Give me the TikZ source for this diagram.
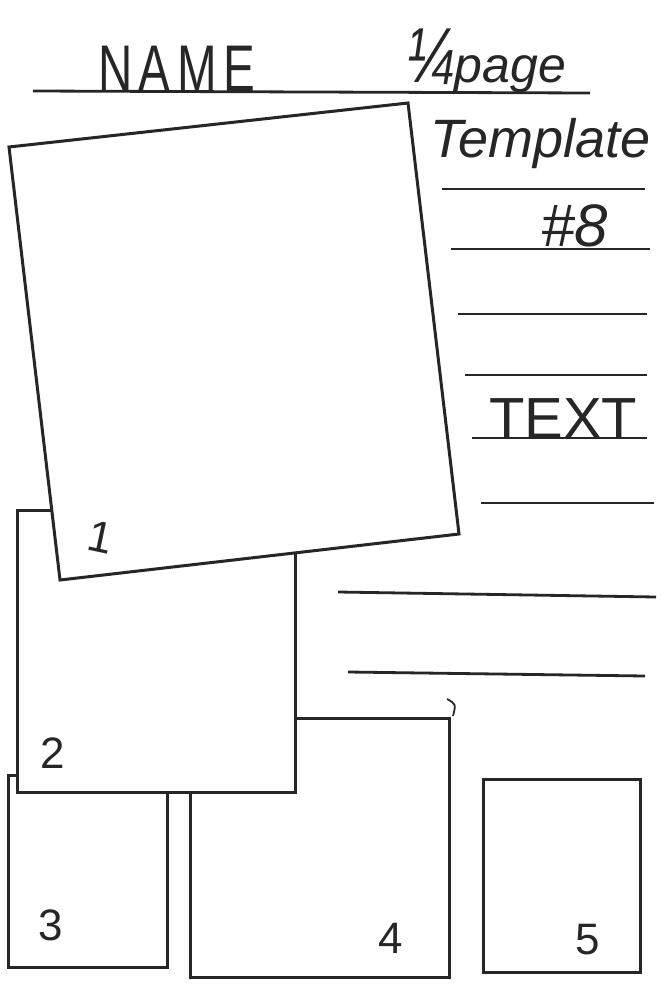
\documentclass[tikz,border=0pt]{standalone}
\usepackage{fontspec}
\setmainfont{Liberation Sans}
\usepackage{graphicx}
\definecolor{ink}{HTML}{262626}
\begin{document}
\begin{tikzpicture}[x=1pt,y=-1pt,
  panel/.style={draw=ink,line width=3pt,fill=white,line join=miter},
  rule/.style={draw=ink,line width=2.8pt},
  hand/.style={text=ink,inner sep=0pt,outer sep=0pt},
  num/.style={hand,font=\fontsize{44}{44}\selectfont}]
\useasboundingbox[fill=white] (0,0) rectangle (670,993);
% header
\draw[rule] (33,91) -- (590,93);
\node[hand,anchor=base west,font=\fontsize{66}{66}\selectfont\addfontfeature{LetterSpace=14}] (name) at (98,91) {\scalebox{0.72}[1]{NAME}};
\node[hand,anchor=base west,font=\fontsize{50}{50}\selectfont\itshape] (quarter) at (406,82) {{\fontsize{78}{78}\selectfont\scalebox{0.75}[1]{¼}}page};
\node[hand,anchor=base west,font=\fontsize{54}{54}\selectfont\itshape] (template) at (430,157) {Template};
\node[hand,anchor=base west,font=\fontsize{60}{60}\selectfont\itshape] (num8) at (541,246) {\#8};
\node[hand,anchor=base west,font=\fontsize{58}{58}\selectfont] (text) at (489,438) {TEXT};
% lines on the right
\draw[rule] (442,189) -- (645,189);
\draw[rule] (451,249) -- (650,249);
\draw[rule] (458,314) -- (647,314);
\draw[rule] (465,375) -- (647,375);
\draw[rule] (472,438) -- (647,438);
\draw[rule] (481,503) -- (654,503);
\draw[rule] (338,592) -- (656,597);
\draw[rule] (348,672) -- (645,676);
% panels
\draw[panel] (8.5,775) rectangle (167.5,967);
\draw[panel] (190,718) rectangle (449,977);
\draw[panel] (483,779) rectangle (640,972);
\draw[panel] (17,510) rectangle (295,792);
\coordinate (tl) at (9,147);
\coordinate (tr) at (408,103);
\coordinate (br) at (459,534);
\coordinate (bl) at (60,580);
\draw[panel] (tl) -- (tr) -- (br) -- (bl) -- cycle;
\draw[ink,line width=1.8pt] (447,699) .. controls (456,704) .. (453,716);
% panel numbers
\node[num,rotate=-12] (n1) at (101,537) {1};
\node[num] (n2) at (53,753) {2};
\node[num] (n3) at (51,925) {3};
\node[num] (n4) at (391,938) {4};
\node[num] (n5) at (588,940) {5};
\end{tikzpicture}
\end{document}
